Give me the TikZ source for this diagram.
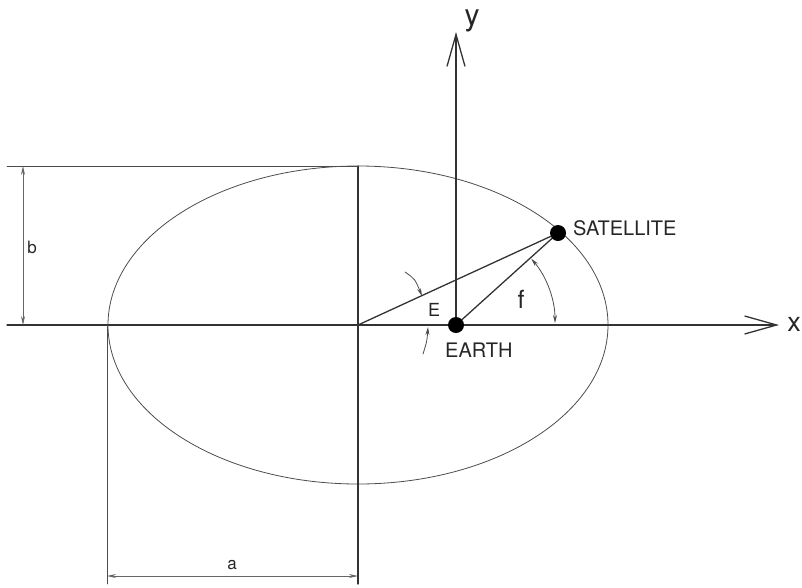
\documentclass[tikz,border=0pt]{standalone}
\usepackage{fontspec}
\setmainfont{TeX Gyre Heros}
\usetikzlibrary{arrows.meta}
\begin{document}
\begin{tikzpicture}[x=1pt,y=-1pt,line cap=round,
  ln/.style={draw=black!80,line width=1.3pt},
  thin/.style={draw=black!70,line width=0.8pt},
  dim/.style={draw=black!60,line width=0.8pt,{Stealth[length=9pt,width=4pt]}-{Stealth[length=9pt,width=4pt]}},
  axarrow/.style={-{Straight Barb[length=32pt,width=18pt,line width=1.3pt]}},
  lbl/.style={inner sep=0pt,text=black!85},
  dot/.style={circle,fill=black,inner sep=0pt,minimum size=16pt}]
\useasboundingbox (0,0) rectangle (802,587);
% key points
\coordinate (O) at (358,325);
\coordinate (L) at (107,325);
\coordinate (T) at (358,166);
\coordinate (xs) at (7,325);
\coordinate (xe) at (779,325);
\coordinate (ys) at (456,330);
\coordinate (ye) at (456,32);
% ellipse
\draw[thin] (O) ellipse [x radius=250, y radius=159];
% axes and construction lines
\draw[ln,axarrow] (xs) -- (xe);
\draw[ln,axarrow] (ys) -- (ye);
\draw[ln] (T) -- (358,584);
\draw[thin] (L) -- (107,584);
\draw[thin] (7,166) -- (T);
% bodies
\node[dot] (earth) at (456,325) {};
\node[dot] (sat) at (558,233) {};
% lines to satellite
\draw[ln] (O) -- (sat);
\draw[ln] (earth) -- (sat);
% dimensions
\coordinate (a1) at (107,576);
\coordinate (a2) at (358,576);
\draw[dim] (a1) -- (a2);
\node[lbl,anchor=base,font=\fontsize{17}{19}\selectfont] (alab) at (232,569) {a};
\coordinate (b1) at (23,166);
\coordinate (b2) at (23,325);
\draw[dim] (b1) -- (b2);
\node[lbl,anchor=base,fill=white,inner sep=1pt,font=\fontsize{17}{19}\selectfont] (blab) at (32,253) {b};
% angle f
\draw[thin,{Stealth[length=8pt,width=4pt]}-{Stealth[length=8pt,width=4pt]}]
  (555,323) arc[start angle=0,end angle=-40.5,radius=99];
\node[lbl,anchor=base,font=\fontsize{25}{27}\selectfont] (flab) at (521,308) {f};
% angle E markers
\coordinate (e1s) at (405,272);
\coordinate (e1e) at (422,296);
\coordinate (e2s) at (423,354);
\coordinate (e2e) at (428,327);
\draw[thin,-{Stealth[length=8pt,width=4pt]}] (e1s) .. controls (415,279) .. (e1e);
\draw[thin,-{Stealth[length=8pt,width=4pt]}] (e2s) .. controls (427,341) .. (e2e);
\node[lbl,anchor=base,font=\fontsize{18}{20}\selectfont] (Elab) at (434,316) {E};
% labels
\node[lbl,anchor=base west,font=\fontsize{20}{22}\selectfont] (ealab) at (445,357) {EARTH};
\node[lbl,anchor=base west,font=\fontsize{20}{22}\selectfont] (satlab) at (573,235) {SATELLITE};
\node[lbl,anchor=base,font=\fontsize{27}{29}\selectfont] (xlab) at (794,331) {x};
\node[lbl,anchor=base,font=\fontsize{30}{32}\selectfont] (ylab) at (472,25) {y};
\end{tikzpicture}
\end{document}
